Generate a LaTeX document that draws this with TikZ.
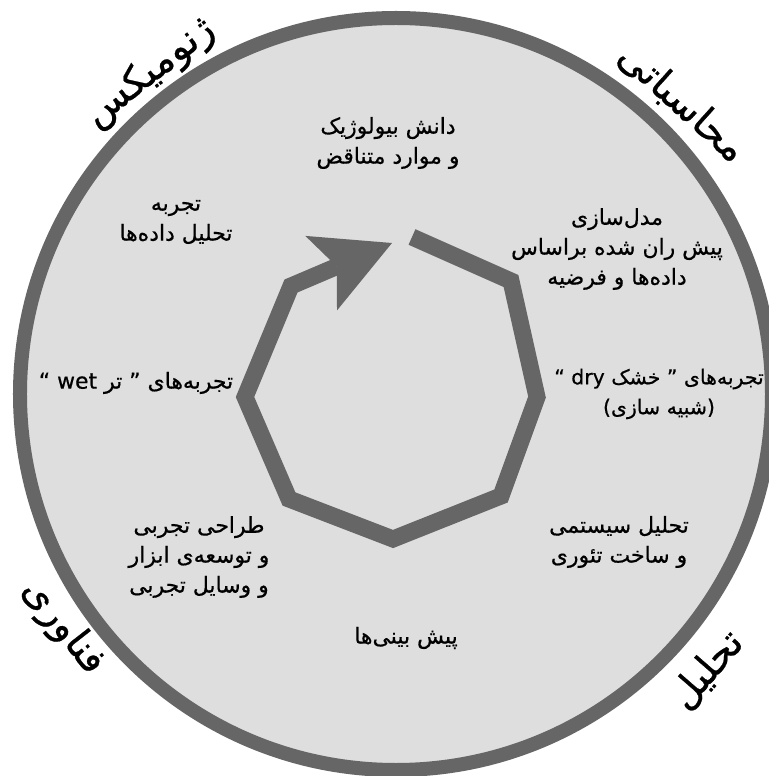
\documentclass[tikz,border=0pt]{standalone}
\usepackage{fontspec}
\usepackage{xcolor}
\usepackage{tikz}
\usetikzlibrary{arrows.meta}
\TeXXeTstate=1
\newfontfamily\farsi[Script=Arabic, FakeBold=0.6]{DejaVu Sans}
\newcommand{\fa}[1]{\beginR#1\endR}
\definecolor{rimgray}{HTML}{666666}
\definecolor{discgray}{HTML}{DEDEDE}

\begin{document}
\begin{tikzpicture}[
    x=1bp, y=1bp,
    disc/.style={draw=rimgray, fill=discgray, line width=14bp},
    band/.style={draw=rimgray, line width=17bp, line join=miter,
        -{Stealth[length=77bp, width=81bp, inset=17bp, line width=0pt]}},
    lbl/.style={font=\farsi\fontsize{22}{30}\selectfont, align=center, text=black},
    rimlbl/.style={font=\farsi\fontsize{39}{44}\selectfont, text=black}
]
\useasboundingbox (-396,-382) rectangle (373,394);
\draw[disc] (0,0) circle (376);

% corners of the loop
\coordinate (s) at (16,157);
\coordinate (v45) at (115,113);
\coordinate (v0) at (141,-3);
\coordinate (vm45) at (105,-102);
\coordinate (vm90) at (-3,-145);
\coordinate (vm135) at (-107,-105);
\coordinate (v180) at (-151,-3);
\coordinate (v135) at (-105,108);
\coordinate (tip) at (-4,151);
\draw[band] (s) -- (v45) -- (v0) -- (vm45) -- (vm90) -- (vm135) -- (v180) -- (v135) -- (tip);

% steps
\node[lbl] (knowledge) at (-8,251) {\fa{دانش بیولوژیک}\\\fa{و موارد متناقض}};
\node[lbl] (modeling) at (221,145) {\fa{مدل‌سازی}\\\fa{پیش ران شده براساس}\\\fa{داده‌ها و فرضیه}};
\node[lbl, font=\farsi\fontsize{20.5}{30}\selectfont] (dry) at (263,0) {\fa{تجربه‌های ” خشک dry “}\\\fa{(شبیه سازی)}};
\node[lbl] (theory) at (223,-148) {\fa{تحلیل سیستمی}\\\fa{و ساخت تئوری}};
\node[lbl] (predict) at (10,-244) {\fa{پیش بینی‌ها}};
\node[lbl] (design) at (-197,-163) {\fa{طراحی تجربی}\\\fa{و توسعه‌ی ابزار}\\\fa{و وسایل تجربی}};
\node[lbl] (wet) at (-260,11) {\fa{تجربه‌های ” تر wet “}};
\node[lbl] (analysis) at (-220,172) {\fa{تجربه}\\\fa{تحلیل داده‌ها}};

% rim
\node[rimlbl, rotate=38] (genomics) at (-246,321) {\fa{ژنومیکس}};
\node[rimlbl, rotate=-42] (computing) at (286,291) {\fa{محاسباتی}};
\node[rimlbl, rotate=-52] (technology) at (-333,-233) {\fa{فناوری}};
\node[rimlbl, rotate=49] (analytics) at (311,-276) {\fa{تحلیل}};
\end{tikzpicture}
\end{document}
